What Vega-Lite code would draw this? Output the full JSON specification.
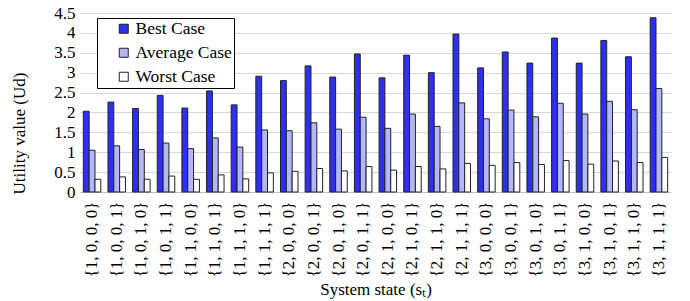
{
  "$schema": "https://vega.github.io/schema/vega-lite/v6.json",
  "width": 591,
  "height": 179,
  "autosize": {"type": "none"},
  "padding": {"left": 80, "top": 13, "right": 19, "bottom": 109},
  "background": "white",
  "config": {
    "font": "Liberation Serif",
    "view": {"stroke": null},
    "style": {
      "guide-label": {"font": "Liberation Serif"},
      "guide-title": {"font": "Liberation Serif"}
    }
  },
  "data": {
    "values": [
      {"state": "{1,0,0,0}", "case": "Best Case", "value": 2.03},
      {"state": "{1,0,0,0}", "case": "Average Case", "value": 1.05},
      {"state": "{1,0,0,0}", "case": "Worst Case", "value": 0.32},
      {"state": "{1,0,0,1}", "case": "Best Case", "value": 2.26},
      {"state": "{1,0,0,1}", "case": "Average Case", "value": 1.16},
      {"state": "{1,0,0,1}", "case": "Worst Case", "value": 0.38},
      {"state": "{1,0,1,0}", "case": "Best Case", "value": 2.10},
      {"state": "{1,0,1,0}", "case": "Average Case", "value": 1.07},
      {"state": "{1,0,1,0}", "case": "Worst Case", "value": 0.32},
      {"state": "{1,0,1,1}", "case": "Best Case", "value": 2.43},
      {"state": "{1,0,1,1}", "case": "Average Case", "value": 1.23},
      {"state": "{1,0,1,1}", "case": "Worst Case", "value": 0.40},
      {"state": "{1,1,0,0}", "case": "Best Case", "value": 2.11},
      {"state": "{1,1,0,0}", "case": "Average Case", "value": 1.09},
      {"state": "{1,1,0,0}", "case": "Worst Case", "value": 0.32},
      {"state": "{1,1,0,1}", "case": "Best Case", "value": 2.54},
      {"state": "{1,1,0,1}", "case": "Average Case", "value": 1.36},
      {"state": "{1,1,0,1}", "case": "Worst Case", "value": 0.43},
      {"state": "{1,1,1,0}", "case": "Best Case", "value": 2.19},
      {"state": "{1,1,1,0}", "case": "Average Case", "value": 1.13},
      {"state": "{1,1,1,0}", "case": "Worst Case", "value": 0.33},
      {"state": "{1,1,1,1}", "case": "Best Case", "value": 2.91},
      {"state": "{1,1,1,1}", "case": "Average Case", "value": 1.56},
      {"state": "{1,1,1,1}", "case": "Worst Case", "value": 0.48},
      {"state": "{2,0,0,0}", "case": "Best Case", "value": 2.80},
      {"state": "{2,0,0,0}", "case": "Average Case", "value": 1.54},
      {"state": "{2,0,0,0}", "case": "Worst Case", "value": 0.52},
      {"state": "{2,0,0,1}", "case": "Best Case", "value": 3.17},
      {"state": "{2,0,0,1}", "case": "Average Case", "value": 1.74},
      {"state": "{2,0,0,1}", "case": "Worst Case", "value": 0.59},
      {"state": "{2,0,1,0}", "case": "Best Case", "value": 2.89},
      {"state": "{2,0,1,0}", "case": "Average Case", "value": 1.58},
      {"state": "{2,0,1,0}", "case": "Worst Case", "value": 0.53},
      {"state": "{2,0,1,1}", "case": "Best Case", "value": 3.47},
      {"state": "{2,0,1,1}", "case": "Average Case", "value": 1.88},
      {"state": "{2,0,1,1}", "case": "Worst Case", "value": 0.64},
      {"state": "{2,1,0,0}", "case": "Best Case", "value": 2.87},
      {"state": "{2,1,0,0}", "case": "Average Case", "value": 1.60},
      {"state": "{2,1,0,0}", "case": "Worst Case", "value": 0.55},
      {"state": "{2,1,0,1}", "case": "Best Case", "value": 3.44},
      {"state": "{2,1,0,1}", "case": "Average Case", "value": 1.96},
      {"state": "{2,1,0,1}", "case": "Worst Case", "value": 0.64},
      {"state": "{2,1,1,0}", "case": "Best Case", "value": 3.00},
      {"state": "{2,1,1,0}", "case": "Average Case", "value": 1.65},
      {"state": "{2,1,1,0}", "case": "Worst Case", "value": 0.58},
      {"state": "{2,1,1,1}", "case": "Best Case", "value": 3.97},
      {"state": "{2,1,1,1}", "case": "Average Case", "value": 2.24},
      {"state": "{2,1,1,1}", "case": "Worst Case", "value": 0.72},
      {"state": "{3,0,0,0}", "case": "Best Case", "value": 3.12},
      {"state": "{3,0,0,0}", "case": "Average Case", "value": 1.84},
      {"state": "{3,0,0,0}", "case": "Worst Case", "value": 0.67},
      {"state": "{3,0,0,1}", "case": "Best Case", "value": 3.52},
      {"state": "{3,0,0,1}", "case": "Average Case", "value": 2.06},
      {"state": "{3,0,0,1}", "case": "Worst Case", "value": 0.74},
      {"state": "{3,0,1,0}", "case": "Best Case", "value": 3.24},
      {"state": "{3,0,1,0}", "case": "Average Case", "value": 1.89},
      {"state": "{3,0,1,0}", "case": "Worst Case", "value": 0.69},
      {"state": "{3,0,1,1}", "case": "Best Case", "value": 3.87},
      {"state": "{3,0,1,1}", "case": "Average Case", "value": 2.23},
      {"state": "{3,0,1,1}", "case": "Worst Case", "value": 0.79},
      {"state": "{3,1,0,0}", "case": "Best Case", "value": 3.24},
      {"state": "{3,1,0,0}", "case": "Average Case", "value": 1.96},
      {"state": "{3,1,0,0}", "case": "Worst Case", "value": 0.70},
      {"state": "{3,1,0,1}", "case": "Best Case", "value": 3.81},
      {"state": "{3,1,0,1}", "case": "Average Case", "value": 2.28},
      {"state": "{3,1,0,1}", "case": "Worst Case", "value": 0.78},
      {"state": "{3,1,1,0}", "case": "Best Case", "value": 3.40},
      {"state": "{3,1,1,0}", "case": "Average Case", "value": 2.07},
      {"state": "{3,1,1,0}", "case": "Worst Case", "value": 0.74},
      {"state": "{3,1,1,1}", "case": "Best Case", "value": 4.38},
      {"state": "{3,1,1,1}", "case": "Average Case", "value": 2.60},
      {"state": "{3,1,1,1}", "case": "Worst Case", "value": 0.87}
    ]
  },
  "mark": {"type": "bar", "stroke": "#222222", "strokeWidth": 1},
  "encoding": {
    "x": {
      "field": "state",
      "type": "nominal",
      "sort": null,
      "scale": {"paddingInner": 0.29, "paddingOuter": 0.135},
      "axis": {
        "title": "System state (sₜ)",
        "titleFont": "Liberation Serif",
        "titleFontSize": 17,
        "titleFontWeight": "normal",
        "titleColor": "black",
        "titlePadding": 5,
        "labelAngle": -90,
        "labelFont": "Liberation Serif",
        "labelFontSize": 17,
        "labelColor": "black",
        "labelPadding": 9,
        "labelExpr": "replace(datum.label, /,/g, ', ')",
        "ticks": false,
        "domainColor": "#bfbfbf",
        "grid": false
      }
    },
    "xOffset": {
      "field": "case",
      "type": "nominal",
      "sort": ["Best Case", "Average Case", "Worst Case"],
      "scale": {"paddingInner": 0, "paddingOuter": 0}
    },
    "y": {
      "field": "value",
      "type": "quantitative",
      "scale": {"domain": [0, 4.5], "nice": false},
      "axis": {
        "title": "Utility value (Ud)",
        "titleFont": "Liberation Serif",
        "titleFontSize": 17,
        "titleFontWeight": "normal",
        "titleColor": "black",
        "titleX": -52,
        "titleY": 120,
        "titleAngle": -90,
        "titleAlign": "center",
        "titleBaseline": "bottom",
        "values": [0, 0.5, 1, 1.5, 2, 2.5, 3, 3.5, 4, 4.5],
        "format": ".1~f",
        "labelFont": "Liberation Serif",
        "labelFontSize": 17,
        "labelColor": "black",
        "labelPadding": 5,
        "ticks": false,
        "domain": false,
        "grid": true,
        "gridColor": "#d9d9d9",
        "gridWidth": 1
      }
    },
    "color": {
      "field": "case",
      "type": "nominal",
      "sort": ["Best Case", "Average Case", "Worst Case"],
      "scale": {
        "domain": ["Best Case", "Average Case", "Worst Case"],
        "range": ["#2f2ff0", "#b3b6f8", "#ffffff"]
      },
      "legend": {
        "title": null,
        "orient": "none",
        "legendX": 17,
        "legendY": 5,
        "fillColor": "white",
        "strokeColor": "black",
        "padding": 2,
        "symbolType": "square",
        "symbolSize": 81,
        "symbolStrokeColor": "#222222",
        "symbolStrokeWidth": 1,
        "symbolOffset": 16,
        "labelFont": "Liberation Serif",
        "labelFontSize": 17.5,
        "labelColor": "black",
        "labelOffset": 3,
        "rowPadding": 5
      }
    }
  }
}
